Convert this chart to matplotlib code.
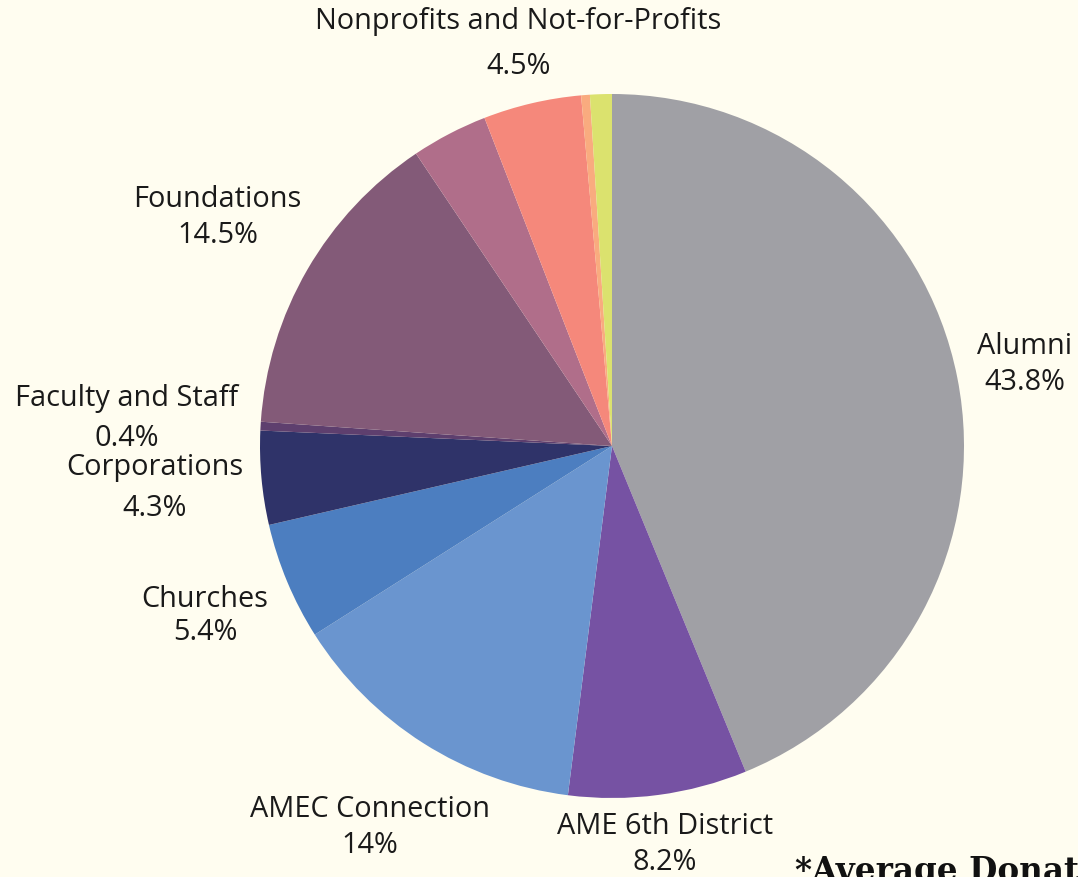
import numpy as np
import matplotlib
matplotlib.use("Agg")
import matplotlib.pyplot as plt

# ---- data ----
categories = ["Alumni", "AME 6th District", "AMEC Connection", "Churches",
              "Corporations", "Faculty and Staff", "Foundations", "",
              "Nonprofits and Not-for-Profits", "", ""]
values = [43.8, 8.2, 14.0, 5.4, 4.3, 0.4, 14.5, 3.5, 4.5, 0.4, 1.0]
pct_labels = ["43.8%", "8.2%", "14%", "5.4%", "4.3%", "0.4%", "14.5%", "",
              "4.5%", "", ""]

# ---- styles ----
colors = ["#a0a0a5", "#7652a3", "#6a95cf", "#4c7ec0", "#2f3369", "#5e3f6e",
          "#835a78", "#b06e8a", "#f5887b", "#f9ab7f", "#dbe26e"]
bg = "#fffdf0"
label_radius = [1.196, 1.142, 1.284, 1.253, 1.304, 1.382, 1.295, 0, 1.173, 0, 0]
half_gap = [0.052, 0.052, 0.052, 0.048, 0.058, 0.056, 0.051, 0, 0.063, 0, 0]

W, H, DPI = 1078, 877, 100
cx, cy, R = 612, 446, 352

fig = plt.figure(figsize=(W / DPI, H / DPI), dpi=DPI, facecolor=bg)
ax = fig.add_axes([0, 0, 1, 1])
ax.set_facecolor(bg)

wedges, _ = ax.pie(values, colors=colors, startangle=90, counterclock=False,
                   radius=1.0, center=(0, 0), frame=True,
                   wedgeprops=dict(linewidth=0))
ax.set_xlim(-cx / R, (W - cx) / R)
ax.set_ylim((cy - H) / R, cy / R)
ax.set_aspect("auto")
ax.axis("off")

font = "Open Sans"
fs = 20.8
for w, name, pct, lr, hg in zip(wedges, categories, pct_labels, label_radius, half_gap):
    if not name:
        continue
    ang = np.deg2rad((w.theta1 + w.theta2) / 2)
    x, y = lr * np.cos(ang), lr * np.sin(ang)
    ax.text(x, y + hg, name, ha="center", va="center", fontsize=fs,
            family=font, color="#1a1a1a")
    ax.text(x, y - hg, pct, ha="center", va="center", fontsize=fs,
            family=font, color="#1a1a1a")

fig.text(795 / W, 1 - 881 / H, "*Average Donation", ha="left", va="baseline",
         fontsize=23.5, family="DejaVu Serif", fontweight="bold", color="#111111")

fig.savefig("out.png", dpi=DPI, facecolor=bg)
